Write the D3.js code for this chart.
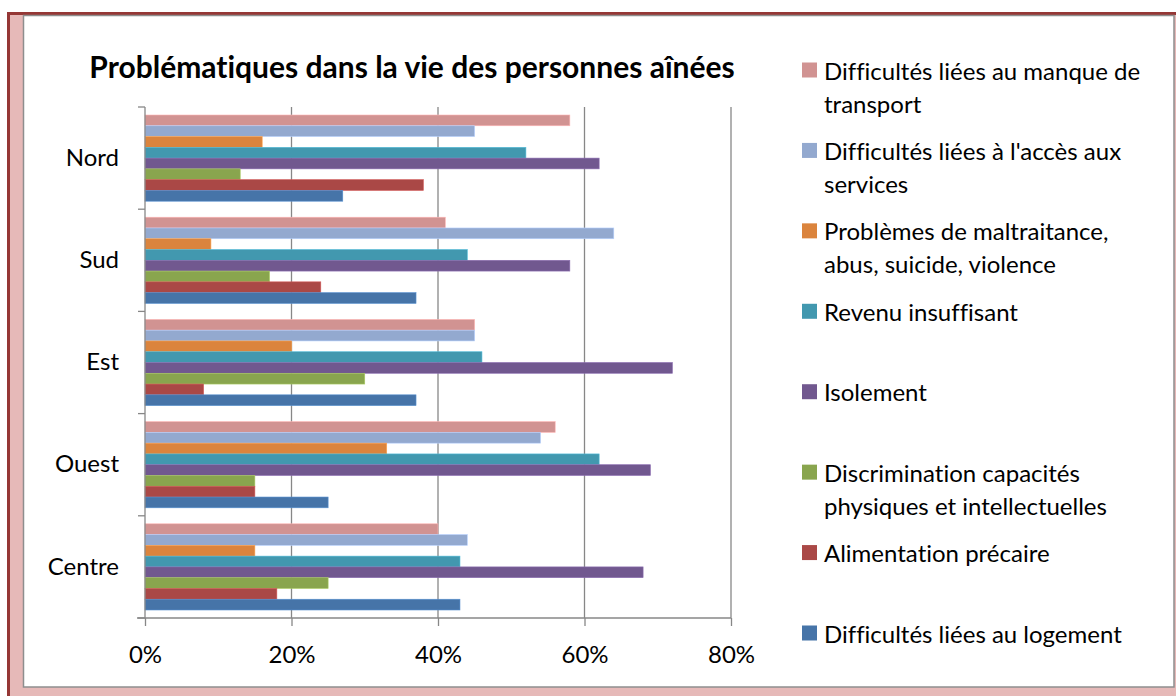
<body style="margin:0">
<script src="https://d3js.org/d3.v7.min.js"></script>
<style>
  text { font-family: Lato, "Open Sans", sans-serif; fill: #000; font-variant-ligatures: none; }
</style>
<script>
  // categories top to bottom as shown
  var categories = ["Nord", "Sud", "Est", "Ouest", "Centre"];

  // series values in % (order: Nord, Sud, Est, Ouest, Centre)
  var transport      = [58, 41, 45, 56, 40];
  var accesServices  = [45, 64, 45, 54, 44];
  var maltraitance   = [16,  9, 20, 33, 15];
  var revenu         = [52, 44, 46, 62, 43];
  var isolement      = [62, 58, 72, 69, 68];
  var discrimination = [13, 17, 30, 15, 25];
  var alimentation   = [38, 24,  8, 15, 18];
  var logement       = [27, 37, 37, 25, 43];

  var seriesLabels = [
    ["Difficultés liées au manque de", "transport"],
    ["Difficultés liées à l'accès aux", "services"],
    ["Problèmes de maltraitance,", "abus, suicide, violence"],
    ["Revenu insuffisant"],
    ["Isolement"],
    ["Discrimination capacités", "physiques et intellectuelles"],
    ["Alimentation précaire"],
    ["Difficultés liées au logement"]
  ];
  var seriesColors = ["#D19392", "#93A9CF", "#DB843D", "#4298AF", "#71588F", "#89A54E", "#AA4846", "#4674A8"];
  var xTicks = [0, 20, 40, 60, 80];

  var series = [transport, accesServices, maltraitance, revenu, isolement, discrimination, alimentation, logement];

  var W = 1176, H = 696;
  var plot = {left: 145, right: 731, top: 107, bottom: 618};
  var fontSize = "24px";

  var svg = d3.select("body").append("svg")
      .attr("width", W)
      .attr("height", H);

  // frame
  svg.append("rect").attr("x", 7).attr("y", 12).attr("width", W - 7).attr("height", H - 12)
      .style("fill", "#E6B9B8");
  svg.append("rect").attr("x", 7).attr("y", 12).attr("width", W - 7).attr("height", 3).style("fill", "#953735");
  svg.append("rect").attr("x", 7).attr("y", 12).attr("width", 3).attr("height", H - 12).style("fill", "#953735");
  svg.append("rect").attr("x", 23.5).attr("y", 15.5).attr("width", 1150.5).attr("height", 671.5)
      .style("fill", "#fff").style("stroke", "#8E8E8E").style("stroke-width", 1.5);

  var x = d3.scaleLinear().domain([0, 80]).range([plot.left, plot.right]);
  var y0 = d3.scaleBand().domain(categories).range([plot.top, plot.bottom]);
  var y1 = d3.scaleBand().domain(d3.range(series.length)).range([8, y0.bandwidth() - 8]);

  // gridlines
  svg.append("g").selectAll("line")
      .data(xTicks.slice(1))
      .enter().append("line")
      .attr("x1", d => x(d)).attr("x2", d => x(d))
      .attr("y1", plot.top).attr("y2", plot.bottom)
      .style("stroke", "#878787").style("stroke-width", 1.3);

  // bars
  var groups = svg.append("g").selectAll("g")
      .data(categories)
      .enter().append("g")
      .attr("transform", d => "translate(0," + y0(d) + ")");

  groups.each(function(cat, ci) {
    var g = d3.select(this);
    series.forEach(function(vals, si) {
      g.append("rect")
          .attr("x", x(0))
          .attr("y", y1(si))
          .attr("width", x(vals[ci]) - x(0))
          .attr("height", y1.bandwidth())
          .style("fill", seriesColors[si])
          .style("stroke", d3.color(seriesColors[si]).brighter(0.6))
          .style("stroke-width", 0.6);
    });
  });

  // axes
  var xAxis = svg.append("g")
      .attr("transform", "translate(0," + plot.bottom + ")")
      .call(d3.axisBottom(x).tickValues(xTicks).tickFormat(d => d + "%").tickSize(8).tickPadding(20));
  xAxis.select(".domain").attr("d", "M" + (plot.left - 8) + ",0H" + plot.right);
  xAxis.selectAll("line, path").style("stroke", "#878787").style("stroke-width", 1.3);
  xAxis.selectAll("text").style("font-size", fontSize).style("font-family", "Lato");

  var yAxis = svg.append("g")
      .attr("transform", "translate(" + plot.left + ",0)")
      .call(d3.axisLeft(y0).tickSize(0).tickPadding(26));
  yAxis.select(".domain").remove();
  yAxis.selectAll("text").style("font-size", fontSize).style("font-family", "Lato");
  svg.append("line")
      .attr("x1", plot.left).attr("x2", plot.left)
      .attr("y1", plot.top).attr("y2", plot.bottom)
      .style("stroke", "#878787").style("stroke-width", 1.3);
  svg.append("g").selectAll("line")
      .data(categories.concat(["end"]))
      .enter().append("line")
      .attr("x1", plot.left - 7).attr("x2", plot.left)
      .attr("y1", (d, i) => plot.top + i * y0.step())
      .attr("y2", (d, i) => plot.top + i * y0.step())
      .style("stroke", "#878787").style("stroke-width", 1.3);

  // title
  svg.append("text")
      .attr("x", 412).attr("y", 66)
      .attr("text-anchor", "middle")
      .attr("dominant-baseline", "central")
      .style("font-size", "30px").style("font-weight", "bold")
      .text("Problématiques dans la vie des personnes aînées");

  // legend
  var legendY = d3.scaleLinear().domain([0, 7]).range([70, 633]);
  var legend = svg.append("g").selectAll("g")
      .data(seriesLabels)
      .enter().append("g")
      .attr("transform", (d, i) => "translate(802," + legendY(i) + ")");
  legend.append("rect")
      .attr("x", 0).attr("y", -7.5).attr("width", 15).attr("height", 15)
      .style("fill", (d, i) => seriesColors[i]);
  legend.each(function(lines) {
    var g = d3.select(this);
    lines.forEach(function(l, li) {
      g.append("text")
          .attr("x", 22).attr("y", li * 33)
          .attr("dominant-baseline", "central")
          .style("font-size", fontSize)
          .text(l);
    });
  });
</script>
</body>
